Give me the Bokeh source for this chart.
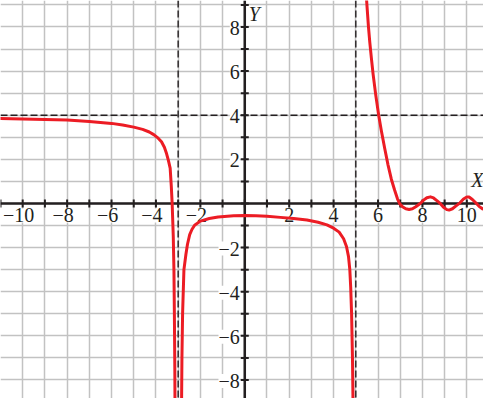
import numpy as np
from bokeh.plotting import figure
from bokeh.models import Span, FixedTicker, Grid, ColumnDataSource, Range1d
from bokeh.core.properties import value
from bokeh.embed import file_html
from bokeh.resources import INLINE

# ---- data ----
grid_x = list(range(-11, 12))
grid_y = list(range(-9, 10))
tick_x = list(range(-11, 11))
tick_y = list(range(-9, 10))
xlab_pos = [-10, -8, -6, -4, -2, 2, 4, 6, 8, 10]
xlab_txt = ["\u221210", "\u22128", "\u22126", "\u22124", "\u22122", "2", "4", "6", "8", "10"]
ylab_pos = [8, 6, 4, 2, -2, -4, -6, -8]
ylab_txt = ["8", "6", "4", "2", "\u22122", "\u22124", "\u22126", "\u22128"]
asym_x = [-3, 5]
asym_y = [4]

left_x = [-11, -10, -9, -8, -7, -6, -5.5, -5, -4.6, -4.3, -4.1, -3.9, -3.75, -3.62,
          -3.52, -3.44, -3.36, -3.31, -3.27, -3.22, -3.19, -3.17, -3.15, -3.14]
left_y = [3.85, 3.83, 3.81, 3.78, 3.72, 3.63, 3.56, 3.46, 3.36, 3.24, 3.12, 2.96, 2.80, 2.55,
          2.25, 1.95, 1.6, 0.8, 0.0, -1.5, -3.0, -5.0, -7.5, -9.5]

mid_x = [-2.85, -2.83, -2.8, -2.74, -2.65, -2.58, -2.48, -2.38, -2.26, -2.0, -1.6, -1.2,
         -0.5, 0.0, 0.5, 1.0, 1.6, 2.2, 2.8, 3.3, 3.7, 4.0, 4.25, 4.45, 4.58, 4.67,
         4.73, 4.77, 4.81, 4.85, 4.88]
mid_y = [-9.5, -7.0, -5.0, -3.0, -2.3, -1.85, -1.41, -1.18, -0.99, -0.8, -0.68, -0.61,
         -0.56, -0.55, -0.56, -0.58, -0.63, -0.68, -0.75, -0.85, -0.97, -1.12, -1.3, -1.6,
         -1.95, -2.4, -3.0, -3.8, -5.0, -7.0, -9.5]

right_x = [5.45, 5.5, 5.57, 5.63, 5.7, 5.78, 5.9, 6.03, 6.15, 6.3, 6.45, 6.6, 6.75, 6.88,
           6.97, 7.1, 7.25, 7.4, 7.55, 7.7, 7.9, 8.05, 8.2, 8.36, 8.5, 8.65, 8.8, 8.95,
           9.1, 9.2, 9.35, 9.5, 9.69, 9.85, 10.0, 10.1, 10.25, 10.4, 10.55, 10.7, 10.85]
right_y = [9.8, 9.0, 8.0, 7.3, 6.6, 5.85, 4.9, 4.0, 3.3, 2.5, 1.75, 1.1, 0.6, 0.2,
           0.0, -0.15, -0.24, -0.27, -0.24, -0.15, 0.0, 0.15, 0.26, 0.3, 0.25, 0.13, 0.0, -0.17,
           -0.28, -0.3, -0.24, -0.12, 0.03, 0.2, 0.29, 0.29, 0.18, 0.03, -0.13, -0.24, -0.3]

# ---- figure ----
p = figure(width=483, height=398,
           x_range=Range1d(-11, 10.75), y_range=Range1d(-8.84, 9.2),
           x_axis_type=None, y_axis_type=None,
           output_backend="svg", toolbar_location=None,
           min_border=0, outline_line_color=None,
           background_fill_color="white", border_fill_color="white")
p.min_border_left = p.min_border_right = p.min_border_top = p.min_border_bottom = 0

GRID = "#c2c2c2"
INK = "#231f20"
RED = "#ec1c24"
FONT = value("Liberation Serif")
FS = "20px"

p.add_layout(Grid(dimension=0, ticker=FixedTicker(ticks=grid_x),
                  grid_line_color=GRID, grid_line_width=1.5))
p.add_layout(Grid(dimension=1, ticker=FixedTicker(ticks=grid_y),
                  grid_line_color=GRID, grid_line_width=1.5))

for v in asym_x:
    p.add_layout(Span(location=v, dimension="height", line_color=INK,
                      line_width=1.4, line_dash="7 3", level="underlay"))
for v in asym_y:
    p.add_layout(Span(location=v, dimension="width", line_color=INK,
                      line_width=1.4, line_dash="7 3", level="underlay"))

# axes through origin
p.add_layout(Span(location=0, dimension="height", line_color=INK, line_width=2.5, level="underlay"))
p.add_layout(Span(location=0, dimension="width", line_color=INK, line_width=2.5, level="underlay"))

# tick labels (white boxes hide grid lines behind them)
xsrc = ColumnDataSource(dict(x=xlab_pos, y=[0] * len(xlab_pos), t=xlab_txt,
                             dx=[-4 if s.startswith("\u2212") else 0 for s in xlab_txt]))
p.text(x="x", y="y", text="t", x_offset="dx", y_offset=5, source=xsrc,
       text_font=FONT, text_font_size=FS, text_color=INK,
       text_align="center", text_baseline="top",
       background_fill_color="white", padding=0)
ysrc = ColumnDataSource(dict(x=[0] * len(ylab_pos), y=ylab_pos, t=ylab_txt))
p.text(x="x", y="y", text="t", x_offset=-5, y_offset=1, source=ysrc,
       text_font=FONT, text_font_size=FS, text_color=INK,
       text_align="right", text_baseline="middle",
       background_fill_color="white", padding=0)

# tick marks
p.scatter(x=tick_x, y=[0] * len(tick_x), marker="dash", angle=np.pi / 2, size=8,
          line_color=INK, line_width=2)
p.scatter(x=[0] * len(tick_y), y=tick_y, marker="dash", size=8,
          line_color=INK, line_width=2)

# curve
for xs, ys in ((left_x, left_y), (mid_x, mid_y), (right_x, right_y)):
    p.line(xs, ys, line_color=RED, line_width=3, line_join="round", line_cap="round")

# axis titles
p.text(x=[p.x_range.end], y=[0], text=["X"], x_offset=0, y_offset=-12,
       text_font=FONT, text_font_size=FS, text_font_style="italic",
       text_color=INK, text_align="right", text_baseline="bottom")
p.text(x=[0], y=[grid_y[-1]], text=["Y"], x_offset=4, y_offset=-2,
       text_font=FONT, text_font_size=FS, text_font_style="italic",
       text_color=INK, text_align="left", text_baseline="top")

open("out.html", "w").write(file_html(p, INLINE))
